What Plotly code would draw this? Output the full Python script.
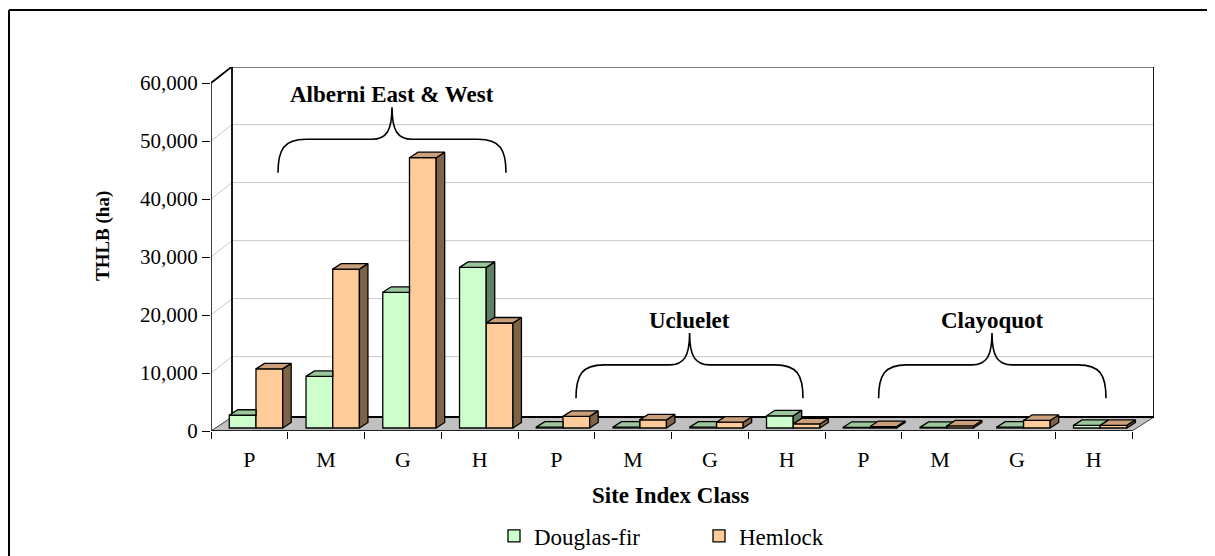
import plotly.graph_objects as go

# ---------------- data ----------------
labels = ["P", "M", "G", "H", "P", "M", "G", "H", "P", "M", "G", "H"]
douglas_fir = [2200, 8900, 23400, 27700, 150, 150, 150, 2100, 120, 100, 150, 450]
hemlock = [10200, 27400, 46600, 18100, 2000, 1400, 1000, 700, 250, 350, 1300, 450]
y_ticks = [0, 10000, 20000, 30000, 40000, 50000, 60000]
group_names = ["Alberni East & West", "Ucluelet", "Clayoquot"]

# ---------------- geometry helpers (reference pixel space) ----------------
W, H = 1215, 556
OFF = 8                               # page body margin of the browser
L, R, T, B = 211, 1154, 67, 431       # plot area in page px
KX = 76.75                            # px per category
KY = 0.0058                           # px per ha
X0 = -0.5
X_END = X0 + (R - L) / KX
Y_TOP = (B - T) / KY


def xd(px):
    return X0 + (px - L) / KX


def yd(py):
    return (B - py) / KY


def xp(x):
    return L + (x - X0) * KX


def yp(y):
    return B - y * KY


def paper_x(px):
    return (px - L) / (R - L)


def paper_y(py):
    return (B - py) / (B - T)


WALL_DX, WALL_DY = 21, 16.4
FLOOR_BACK = 417
BAR_W = 26.7 / KX
BAR_SHIFT = 6.6 / KX
BAR_BASE = 3 / KY
CAP_DX = 8.5 / KX
CAP_DY = 5.5 / KY

DF_FRONT, DF_TOP, DF_SIDE = "#CCFFCC", "#9CC79C", "#637F63"
HE_FRONT, HE_TOP, HE_SIDE = "#FFCC99", "#C9A07A", "#7F6347"

FONT = "Liberation Serif, Times New Roman, serif"

fig = go.Figure()

idx = list(range(len(labels)))
xc = [i + BAR_SHIFT for i in idx]

fig.add_trace(go.Bar(
    x=xc, y=douglas_fir, base=BAR_BASE, width=BAR_W, offset=-BAR_W,
    marker=dict(color=DF_FRONT, line=dict(color="black", width=1.3)),
    name="Douglas-fir"))
fig.add_trace(go.Bar(
    x=xc, y=hemlock, base=BAR_BASE, width=BAR_W, offset=0,
    marker=dict(color=HE_FRONT, line=dict(color="black", width=1.3)),
    name="Hemlock"))


def poly_trace(polys, color):
    xs, ys = [], []
    for p in polys:
        for (a, b) in p + [p[0]]:
            xs.append(a)
            ys.append(b)
        xs.append(None)
        ys.append(None)
    return go.Scatter(x=xs, y=ys, mode="lines", fill="toself", fillcolor=color,
                      line=dict(color="black", width=1.3), showlegend=False,
                      hoverinfo="skip")


df_side, df_cap, he_side, he_cap = [], [], [], []
for i in idx:
    x1 = xc[i]
    x0 = x1 - BAR_W
    x2 = x1 + BAR_W
    b = BAR_BASE
    tD = BAR_BASE + douglas_fir[i]
    tH = BAR_BASE + hemlock[i]
    T2 = tD + CAP_DY
    # Douglas cap (visible part)
    if tH <= tD:
        df_cap.append([(x0, tD), (x0 + CAP_DX, T2), (x1 + CAP_DX, T2), (x1, tD)])
    elif tH >= T2:
        df_cap.append([(x0, tD), (x0 + CAP_DX, T2), (x1, T2), (x1, tD)])
    else:
        frac = (tH - tD) / CAP_DY
        df_cap.append([(x0, tD), (x0 + CAP_DX, T2), (x1 + CAP_DX, T2),
                       (x1 + frac * CAP_DX, tH), (x1, tH), (x1, tD)])
    # Douglas side (visible above hemlock)
    if tD > tH:
        yb = max(b, tH)
        df_side.append([(x1, yb), (x1, tD), (x1 + CAP_DX, T2), (x1 + CAP_DX, yb + CAP_DY)])
    # Hemlock cap & side
    TH2 = tH + CAP_DY
    he_side.append([(x2, b), (x2, tH), (x2 + CAP_DX, TH2), (x2 + CAP_DX, b + CAP_DY)])
    he_cap.append([(x1, tH), (x1 + CAP_DX, TH2), (x2 + CAP_DX, TH2), (x2, tH)])

fig.add_trace(poly_trace(df_side, DF_SIDE))
fig.add_trace(poly_trace(df_cap, DF_TOP))
fig.add_trace(poly_trace(he_side, HE_SIDE))
fig.add_trace(poly_trace(he_cap, HE_TOP))

shapes = []
# floor
floor_path = "M {} {} L {} {} L {} {} L {} {} Z".format(
    X0, 0, xd(L + WALL_DX), yd(FLOOR_BACK), X_END, yd(FLOOR_BACK), 11.5, 0)
shapes.append(dict(type="path", path=floor_path, xref="x", yref="y", layer="below",
                   fillcolor="#C0C0C0", line=dict(color="#404040", width=1)))
# back-wall gridlines & side-wall diagonals
for v in y_ticks[1:-1]:
    shapes.append(dict(type="line", xref="x", yref="y", layer="below",
                       x0=xd(L + WALL_DX), x1=X_END, y0=yd(yp(v) - WALL_DY), y1=yd(yp(v) - WALL_DY),
                       line=dict(color="#C8C8C8", width=1)))
    shapes.append(dict(type="line", xref="x", yref="y", layer="below",
                       x0=X0, x1=xd(L + WALL_DX), y0=v, y1=yd(yp(v) - WALL_DY),
                       line=dict(color="#C8C8C8", width=1)))
vtop = y_ticks[-1]
ytop_back = yd(yp(vtop) - WALL_DY)
# top edges
shapes.append(dict(type="line", xref="x", yref="y", layer="below",
                   x0=X0, x1=xd(L + WALL_DX), y0=vtop, y1=ytop_back,
                   line=dict(color="black", width=1.8)))
shapes.append(dict(type="line", xref="x", yref="y", layer="below",
                   x0=xd(L + WALL_DX), x1=X_END, y0=ytop_back, y1=ytop_back,
                   line=dict(color="black", width=1.8)))
# back wall verticals
for xx in [xd(L + WALL_DX), X_END]:
    shapes.append(dict(type="line", xref="x", yref="y", layer="below",
                       x0=xx, x1=xx, y0=yd(FLOOR_BACK), y1=ytop_back,
                       line=dict(color="black", width=1.8)))
# floor back edge
shapes.append(dict(type="line", xref="x", yref="y", layer="below",
                   x0=xd(L + WALL_DX), x1=X_END, y0=yd(FLOOR_BACK), y1=yd(FLOOR_BACK),
                   line=dict(color="black", width=1.8)))
# front axes
shapes.append(dict(type="line", xref="x", yref="y", layer="above",
                   x0=X0, x1=X0, y0=0, y1=vtop, line=dict(color="black", width=1.5)))
shapes.append(dict(type="line", xref="x", yref="y", layer="above",
                   x0=X0, x1=11.5, y0=0, y1=0, line=dict(color="black", width=1.5)))

# braces
braces = [  # (left px, right px, centre px, bottom px)
    (278, 506, 392, 172.7),
    (576, 803, 689.6, 398.3),
    (878.6, 1106, 992, 398.3),
]
BR_RISE1, BR_RISE2 = 33.4, 32.0
for (lx, rx, cx, by) in braces:
    hy = by - BR_RISE1
    ty = hy - BR_RISE2
    pts = [
        ("M", [(lx, by)]),
        ("C", [(lx, hy + 10), (lx + 6, hy), (lx + 28, hy)]),
        ("L", [(cx - 20, hy)]),
        ("C", [(cx - 6, hy), (cx, hy - 8), (cx, ty)]),
        ("C", [(cx, hy - 8), (cx + 6, hy), (cx + 20, hy)]),
        ("L", [(rx - 28, hy)]),
        ("C", [(rx - 6, hy), (rx, hy + 10), (rx, by)]),
    ]
    path = " ".join(cmd + " " + " ".join("{:.5f},{:.3f}".format(xd(a), yd(b)) for a, b in p)
                    for cmd, p in pts)
    shapes.append(dict(type="path", path=path, xref="x", yref="y", layer="above",
                       line=dict(color="black", width=1.6)))

# outer border (left and top only visible)
shapes.append(dict(type="line", xref="paper", yref="paper",
                   x0=paper_x(9), x1=paper_x(9), y0=paper_y(10), y1=paper_y(H + 20),
                   line=dict(color="black", width=2)))
shapes.append(dict(type="line", xref="paper", yref="paper",
                   x0=paper_x(9), x1=paper_x(W + 20), y0=paper_y(10), y1=paper_y(10),
                   line=dict(color="black", width=2)))

annotations = []
label_pos = [(392, 94), (689, 320.7), (992, 320.7)]
for name, (px_, py_) in zip(group_names, label_pos):
    annotations.append(dict(x=xd(px_), y=yd(py_), xref="x", yref="y", text="<b>" + name + "</b>",
                            showarrow=False, font=dict(family=FONT, size=23, color="black"),
                            xanchor="center", yanchor="middle"))
annotations.append(dict(x=paper_x(103), y=paper_y(236), xref="paper", yref="paper",
                        text="<b>THLB (ha)</b>", textangle=-90, showarrow=False,
                        font=dict(family=FONT, size=19, color="black"),
                        xanchor="center", yanchor="middle"))
annotations.append(dict(x=paper_x(670), y=paper_y(495), xref="paper", yref="paper",
                        text="<b>Site Index Class</b>", showarrow=False,
                        font=dict(family=FONT, size=23, color="black"),
                        xanchor="center", yanchor="middle"))

fig.update_layout(
    width=W - OFF, height=H - OFF,
    margin=dict(l=L - OFF, r=W - R, t=T - OFF, b=H - B, pad=0, autoexpand=False),
    plot_bgcolor="white", paper_bgcolor="white",
    barmode="overlay", hovermode=False,
    font=dict(family=FONT, size=21, color="black"),
    shapes=shapes, annotations=annotations,
    showlegend=True,
    legend=dict(orientation="h", x=paper_x(494), y=paper_y(536), xanchor="left", yanchor="middle",
                font=dict(family=FONT, size=23, color="black"), entrywidth=160,
                bgcolor="rgba(0,0,0,0)", itemclick=False, itemdoubleclick=False),
    xaxis=dict(range=[X0, X_END], showgrid=False, zeroline=False, showline=False,
               automargin=False,
               tickmode="array", tickvals=idx, ticktext=labels,
               ticks="outside", ticklen=9, tickcolor="rgba(0,0,0,0)",
               tickfont=dict(family=FONT, size=22, color="black"),
               minor=dict(tickmode="array", tickvals=[i - 0.5 for i in range(len(labels) + 1)],
                          ticks="outside", ticklen=7, tickcolor="black", tickwidth=1,
                          showgrid=False)),
    yaxis=dict(range=[0, Y_TOP], showgrid=False, zeroline=False, showline=False,
               automargin=False,
               tickmode="array", tickvals=y_ticks, tickformat=",",
               ticks="outside", ticklen=8, tickcolor="black", tickwidth=1,
               tickfont=dict(family=FONT, size=21, color="black")),
)

fig.write_html("out.html")
